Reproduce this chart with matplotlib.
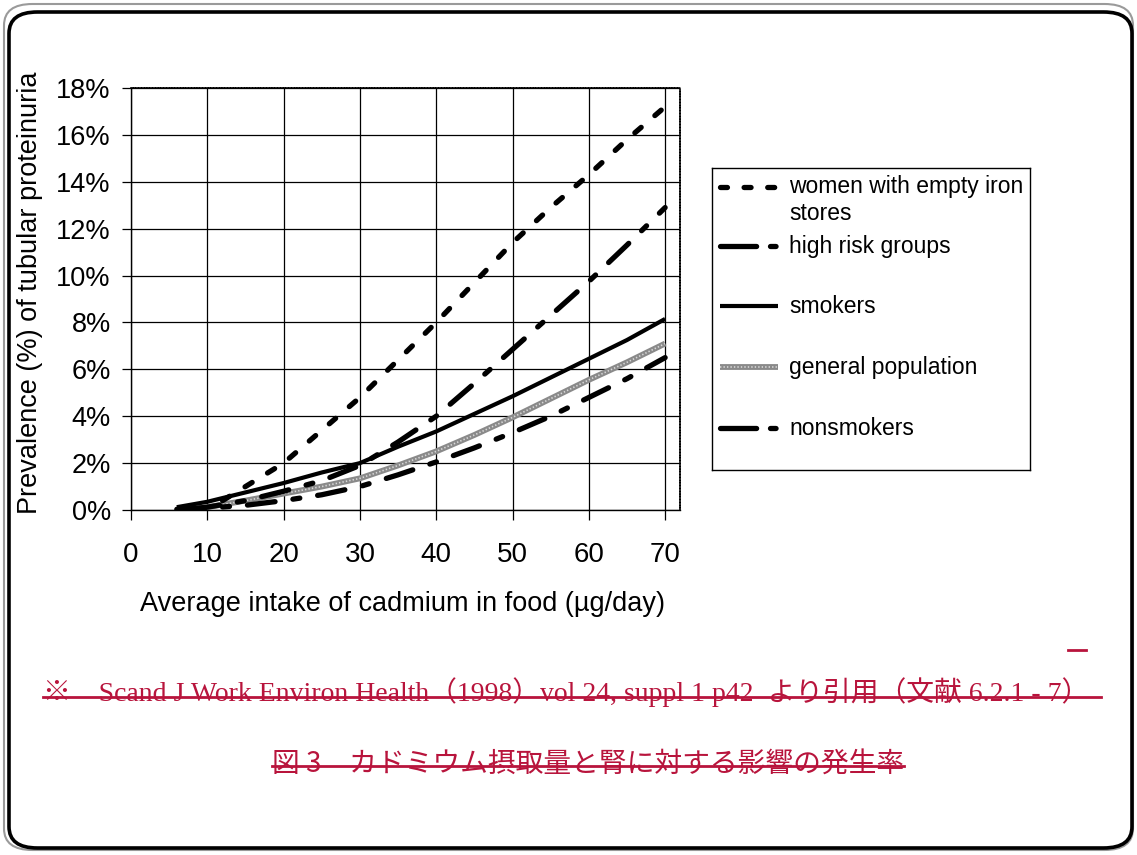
import matplotlib
matplotlib.use("Agg")
import matplotlib.pyplot as plt
from matplotlib.patches import FancyBboxPatch
from matplotlib.lines import Line2D
from matplotlib.ticker import FuncFormatter

plt.rcParams["font.family"] = ["Liberation Sans", "DejaVu Sans"]
plt.rcParams["lines.scale_dashes"] = False

# cadmium intake (ug/day) vs prevalence of tubular proteinuria (%)
women_x = [12, 15, 20, 25, 30, 35, 40, 45, 50, 55, 60, 65, 70]
women_y = [0.4, 1.0, 2.0, 3.4, 4.8, 6.4, 8.0, 9.7, 11.4, 12.9, 14.3, 15.8, 17.2]

high_x = [8, 10, 15, 20, 25, 30, 35, 40, 45, 50, 55, 60, 65, 70]
high_y = [0.05, 0.12, 0.4, 0.8, 1.25, 1.9, 2.9, 4.0, 5.4, 6.85, 8.3, 9.75, 11.3, 12.9]

smokers_x = [6, 10, 15, 20, 25, 30, 35, 40, 45, 50, 55, 60, 65, 70]
smokers_y = [0.12, 0.35, 0.75, 1.15, 1.6, 2.0, 2.7, 3.35, 4.1, 4.85, 5.65, 6.45, 7.25, 8.15]

general_x = [8, 10, 15, 20, 25, 30, 35, 40, 45, 50, 55, 60, 65, 70]
general_y = [0.05, 0.12, 0.4, 0.7, 1.0, 1.35, 1.9, 2.5, 3.2, 3.95, 4.75, 5.55, 6.3, 7.1]

nonsmokers_x = [6, 10, 15, 20, 25, 30, 35, 40, 45, 50, 55, 60, 65, 70]
nonsmokers_y = [0.03, 0.08, 0.2, 0.4, 0.65, 1.0, 1.5, 2.05, 2.65, 3.3, 4.0, 4.8, 5.6, 6.5]

x_ticks = [0, 10, 20, 30, 40, 50, 60, 70]
y_ticks = [0, 2, 4, 6, 8, 10, 12, 14, 16, 18]

legend_labels = ["women with empty iron\nstores", "high risk groups", "smokers",
                 "general population", "nonsmokers"]

source_note = "※　Scand J Work Environ Health（1998）vol 24, suppl 1 p42  より引用（文献 6.2.1 - 7）"
fig_caption = "図 3　カドミウム摂取量と腎に対する影響の発生率"

W, H = 1137, 855
RED = "#B8143C"

# line styles (dash patterns in points)
styles = {
    "women": dict(color="black", lw=3.8, ls=(0, (6, 13)), dash_capstyle="round"),
    "high": dict(color="black", lw=3.8, ls=(0, (20, 13, 5, 13)), dash_capstyle="round"),
    "smokers": dict(color="black", lw=3.0, ls="-", solid_capstyle="butt"),
    "general": dict(color="#8a8a8a", lw=4.2, ls="-", solid_capstyle="butt"),
    "nonsmokers": dict(color="black", lw=3.8, ls=(0, (20, 13, 5, 13)), dash_capstyle="round"),
}

fig = plt.figure(figsize=(W / 100, H / 100), dpi=100)

# rounded page frame with a soft outer edge
fig.add_artist(FancyBboxPatch((4 / W, 5 / H), 1129 / W, 846 / H,
                              boxstyle="round,pad=0,rounding_size=0.025",
                              transform=fig.transFigure, fill=False,
                              ec="#9a9a9a", lw=1.5))
fig.add_artist(FancyBboxPatch((9 / W, 7 / H), 1123 / W, 836 / H,
                              boxstyle="round,pad=0,rounding_size=0.025",
                              transform=fig.transFigure, fill=False,
                              ec="black", lw=2.6))

ax = fig.add_axes([131 / W, 1 - 510 / H, 549 / W, 422 / H])
ax.set_xlim(0, 71.95)
ax.set_ylim(0, 18)

ax.plot(general_x, general_y, zorder=3, **styles["general"])
ax.plot(general_x, general_y, color="#d8d8d8", lw=1.2, ls=(0, (1, 1.5)), zorder=3.1)
ax.plot(nonsmokers_x, nonsmokers_y, zorder=4, **styles["nonsmokers"])
ax.plot(smokers_x, smokers_y, zorder=5, **styles["smokers"])
ax.plot(high_x, high_y, zorder=4, **styles["high"])
ax.plot(women_x, women_y, zorder=4, **styles["women"])

ax.set_xticks(x_ticks)
ax.set_yticks(y_ticks)
ax.yaxis.set_major_formatter(FuncFormatter(lambda v, p: f"{v:.0f}%"))
ax.grid(True, color="black", lw=0.9)
ax.set_axisbelow(True)
ax.tick_params(axis="x", length=7, width=0.9, pad=16, labelsize=20)
ax.tick_params(axis="y", length=6.5, width=0.9, pad=8, labelsize=19.5)

for side in ["left", "bottom"]:
    ax.spines[side].set_linewidth(1.0)
for side in ["top", "right"]:
    ax.spines[side].set_linestyle((0, (1, 1)))
    ax.spines[side].set_linewidth(1.2)

ax.set_xlabel("Average intake of cadmium in food (µg/day)", fontsize=19.5)
ax.xaxis.set_label_coords(0.494, -0.192)
ax.set_ylabel("Prevalence (%) of tubular proteinuria", fontsize=19.5)
ax.yaxis.set_label_coords(-0.16, 0.515)

# legend panel, laid out in page pixels
lax = fig.add_axes([712 / W, 1 - 470 / H, 318 / W, 302 / H])
lax.set_xlim(712, 1030)
lax.set_ylim(470, 168)
lax.set_xticks([])
lax.set_yticks([])
for sp in lax.spines.values():
    sp.set_linewidth(1.0)

row_y = [187, 246, 306, 367, 428]
keys = ["women", "high", "smokers", "general", "nonsmokers"]
for key, yy, label in zip(keys, row_y, legend_labels):
    st = dict(styles[key])
    if key == "women":
        st["ls"] = (0, (5, 12))
    if key in ("high", "nonsmokers"):
        st["ls"] = (0, (26, 10, 4, 30))
    lax.plot([720, 778], [yy, yy], **st)
    if key == "general":
        lax.plot([720, 778], [yy, yy], color="#d8d8d8", lw=1.2, ls=(0, (1, 1.5)))
    if "\n" in label:
        lax.text(789, yy - 12, label, fontsize=16.5, va="top", ha="left",
                 linespacing=1.2)
    else:
        lax.text(789, yy, label, fontsize=16.5, va="center", ha="left")

# red source note and caption, struck through
t1 = fig.text(566 / W, 1 - 692 / H, source_note, fontsize=20, color=RED,
              ha="center", va="center",
              family=["Liberation Serif", "Noto Sans CJK JP", "DejaVu Sans"])
t2 = fig.text(588 / W, 1 - 764 / H, fig_caption, fontsize=20, color=RED,
              ha="center", va="center",
              family=["Noto Sans CJK JP", "DejaVu Sans"])

fig.canvas.draw()
renderer = fig.canvas.get_renderer()
for t, dy, extra in [(t1, 5, 12), (t2, 2, 0)]:
    bb = t.get_window_extent(renderer)
    ymid = (bb.y0 + bb.y1) / 2 - dy
    fig.add_artist(Line2D([bb.x0 / W, (bb.x1 + extra) / W], [ymid / H, ymid / H],
                          transform=fig.transFigure, color=RED, lw=2))

fig.add_artist(Line2D([1068 / W, 1086 / W], [1 - 650 / H, 1 - 650 / H],
                      transform=fig.transFigure, color=RED, lw=2))

fig.savefig("out.png", dpi=100)
